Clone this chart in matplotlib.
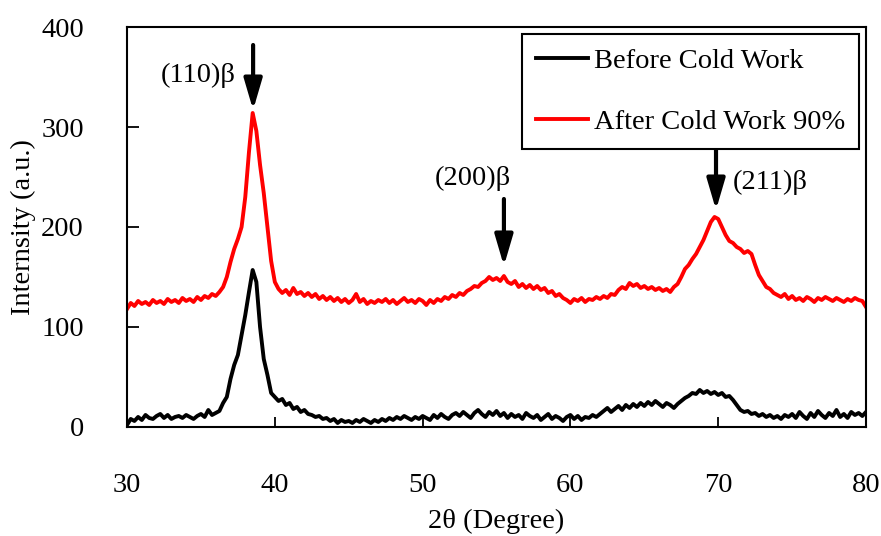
"""
XRD patterns before and after 90% cold work.
"""

import numpy as np
import matplotlib
matplotlib.use("Agg")
import matplotlib.pyplot as plt

plt.rcParams["font.family"] = ["Liberation Serif", "DejaVu Serif"]

# 2-theta grid, 0.25 degree steps from 30 to 80
two_theta = np.arange(30.0, 80.001, 0.25)

before_cw = [
    2, 8, 6, 10, 7, 12, 9, 8, 11, 13,            # 30.0
    9, 12, 8, 10, 11, 9, 12, 10, 8, 11,          # 32.5
    13, 10, 17, 12, 14, 16, 24, 30, 48, 62,      # 35.0
    72, 92, 112, 135, 157, 145, 100, 68, 52, 34,  # 37.5
    30, 26, 28, 22, 24, 18, 20, 15, 17, 13,      # 40.0
    12, 10, 11, 8, 9, 6, 8, 4, 7, 5,             # 42.5
    6, 4, 7, 5, 8, 6, 4, 7, 5, 8,                # 45.0
    6, 9, 7, 10, 8, 11, 9, 7, 10, 8,             # 47.5
    11, 9, 7, 12, 9, 13, 10, 8, 12, 14,          # 50.0
    11, 15, 12, 9, 14, 17, 13, 10, 15, 12,       # 52.5
    16, 11, 14, 9, 13, 10, 12, 8, 14, 11,        # 55.0
    9, 12, 7, 10, 13, 8, 11, 9, 6, 10,           # 57.5
    12, 8, 11, 7, 10, 9, 12, 10, 13, 16,         # 60.0
    19, 15, 18, 21, 17, 22, 19, 23, 20, 24,      # 62.5
    21, 25, 22, 26, 23, 20, 24, 22, 19, 23,      # 65.0
    26, 29, 31, 34, 33, 37, 34, 36, 33, 35,      # 67.5
    32, 34, 30, 31, 27, 22, 17, 15, 16, 13,      # 70.0
    14, 11, 13, 10, 12, 9, 11, 8, 12, 10,        # 72.5
    13, 9, 15, 11, 8, 14, 10, 16, 12, 9,         # 75.0
    14, 11, 17, 10, 13, 9, 15, 12, 14, 11,       # 77.5
    15,                                          # 80.0
]

after_cw = [
    118, 124, 121, 126, 123, 125, 122, 127, 124, 126,   # 30.0
    123, 128, 125, 127, 124, 129, 126, 128, 125, 130,   # 32.5
    127, 131, 129, 133, 131, 135, 140, 150, 165, 178,   # 35.0
    188, 200, 230, 275, 314, 296, 262, 234, 200, 166,   # 37.5
    145, 138, 134, 137, 132, 139, 133, 135, 131, 134,   # 40.0
    130, 133, 128, 131, 127, 130, 126, 129, 125, 128,   # 42.5
    124, 127, 133, 125, 128, 123, 126, 124, 127, 125,   # 45.0
    128, 124, 127, 123, 126, 129, 125, 127, 124, 128,   # 47.5
    126, 122, 127, 124, 128, 126, 130, 128, 132, 130,   # 50.0
    134, 132, 136, 138, 141, 140, 144, 146, 150, 147,   # 52.5
    149, 146, 151, 145, 143, 146, 140, 143, 139, 142,   # 55.0
    138, 141, 137, 139, 134, 136, 131, 133, 129, 127,   # 57.5
    124, 128, 126, 129, 125, 128, 127, 130, 128, 131,   # 60.0
    129, 133, 132, 137, 140, 138, 144, 141, 143, 139,   # 62.5
    141, 138, 140, 137, 139, 136, 138, 135, 140, 143,   # 65.0
    150, 158, 162, 168, 173, 180, 187, 196, 205, 210,   # 67.5
    208, 200, 192, 186, 184, 180, 178, 174, 176, 173,   # 70.0
    162, 152, 146, 140, 138, 134, 132, 130, 133, 128,   # 72.5
    131, 127, 129, 126, 130, 128, 125, 129, 127, 130,   # 75.0
    128, 126, 129, 127, 125, 128, 126, 129, 127, 126,   # 77.5
    120,                                                # 80.0
]

# peak labels: text, arrow x, arrow top, arrow tip, text x, text y, text alignment
peak_labels = ["(110)β", "(200)β", "(211)β"]
peak_x = [38.53, 55.5, 69.85]
arrow_top = [382, 228, 285]
arrow_tip = [317, 161, 217]
label_x = [37.35, 50.8, 70.95]
label_y = [352, 249, 245]
label_ha = ["right", "left", "left"]

FS = 20.5

fig = plt.figure(figsize=(8.81, 5.36), dpi=100)
ax = fig.add_axes([0.1442, 0.2034, 0.983 - 0.1442, 0.9496 - 0.2034])

ax.plot(two_theta, before_cw, color="black", lw=2.8, label="Before Cold Work")
ax.plot(two_theta, after_cw, color="#FF0000", lw=2.8, label="After Cold Work 90%")

for lab, px, top, tip, tx, ty, ha in zip(peak_labels, peak_x, arrow_top, arrow_tip,
                                         label_x, label_y, label_ha):
    ax.annotate("", xy=(px, tip), xytext=(px, top),
                arrowprops=dict(arrowstyle="-|>,head_length=0.75,head_width=0.22",
                                mutation_scale=25, lw=3, color="black",
                                shrinkA=0, shrinkB=0))
    ax.text(tx, ty, lab, ha=ha, va="center", fontsize=FS)

ax.set_xlim(30, 80)
ax.set_ylim(0, 400)
ax.set_xticks(range(30, 81, 10))
ax.set_yticks(range(0, 401, 100))
ax.tick_params(axis="x", direction="in", length=7, width=1.3, pad=33, labelsize=FS)
ax.tick_params(axis="y", direction="in", length=8.5, width=1.3, pad=31, labelsize=FS)
for sp in ax.spines.values():
    sp.set_linewidth(1.5)

ax.set_xlabel("2θ (Degree)", fontsize=FS, labelpad=8)
ax.set_ylabel("Internsity (a.u.)", fontsize=FS, labelpad=4)

leg = ax.legend(loc="upper right", fontsize=FS, frameon=True, fancybox=False,
                framealpha=1, edgecolor="black", handlelength=1.85,
                handletextpad=0.2, labelspacing=1.25, borderpad=0.48,
                borderaxespad=0.25)
leg.get_frame().set_linewidth(1.5)

plt.savefig("out.png", dpi=100)
plt.close(fig)
